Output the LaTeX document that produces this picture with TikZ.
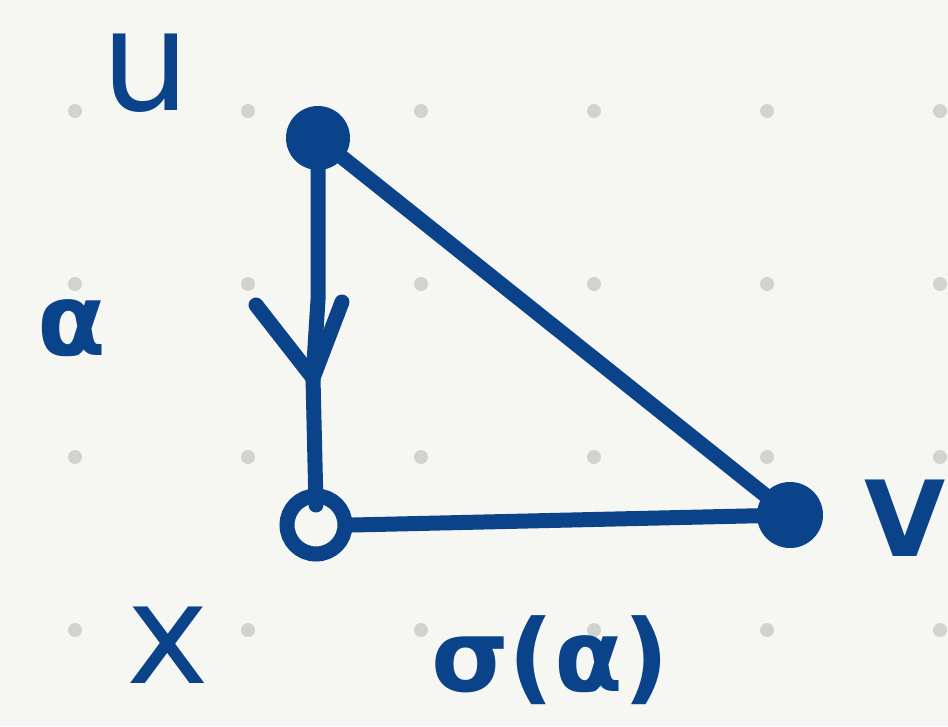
\documentclass[tikz,border=0pt]{standalone}
\usepackage{fontspec}
\setmainfont{DejaVu Sans}
\definecolor{bg}{HTML}{F6F7F2}
\definecolor{ink}{HTML}{0A4389}
\definecolor{griddot}{HTML}{D2D2CE}
\begin{document}
\begin{tikzpicture}[x=1pt,y=-1pt,
  inkline/.style={draw=ink,line width=15pt,line cap=round,line join=round},
  lbl/.style={text=ink,inner sep=0pt}]
\fill[bg] (0,0) rectangle (948,726);
\useasboundingbox (0,0) rectangle (948,726);
\foreach \x in {75,248,421,594,767,940}
  \foreach \y in {111,284,457,630}
    \fill[griddot] (\x,\y) circle (7);
\node[circle,fill=ink,minimum size=64pt,inner sep=0pt] (u) at (318,138) {};
\node[circle,fill=ink,minimum size=66pt,inner sep=0pt] (v) at (790,515) {};
\node[circle,draw=ink,line width=15pt,minimum size=58pt,inner sep=0pt] (x) at (316,525) {};
\coordinate (tip) at (313,378);
\coordinate (wl) at (256,305);
\coordinate (wr) at (342,302);
\draw[inkline] (u.center) -- (u.center |- 0,300) -- (tip) -- (316,505);
\draw[inkline] (wl) -- (tip) -- (wr);
\draw[inkline] (u.center) -- (v.center);
\draw[inkline] (x.east) -- (v.center);
\node[lbl,font=\fontsize{140}{140}\selectfont] (lu) at (146,72) {u};
\node[lbl,font=\fontsize{100}{100}\selectfont\bfseries] (la) at (72,328) {α};
\node[lbl,font=\fontsize{105}{105}\selectfont\bfseries] (lv) at (905,518) {V};
\node[lbl,font=\fontsize{140}{140}\selectfont] (lx) at (168,645) {x};
\node[lbl,font=\fontsize{100}{100}\selectfont\bfseries] (ls) at (550,660) {σ(α)};
\end{tikzpicture}
\end{document}
